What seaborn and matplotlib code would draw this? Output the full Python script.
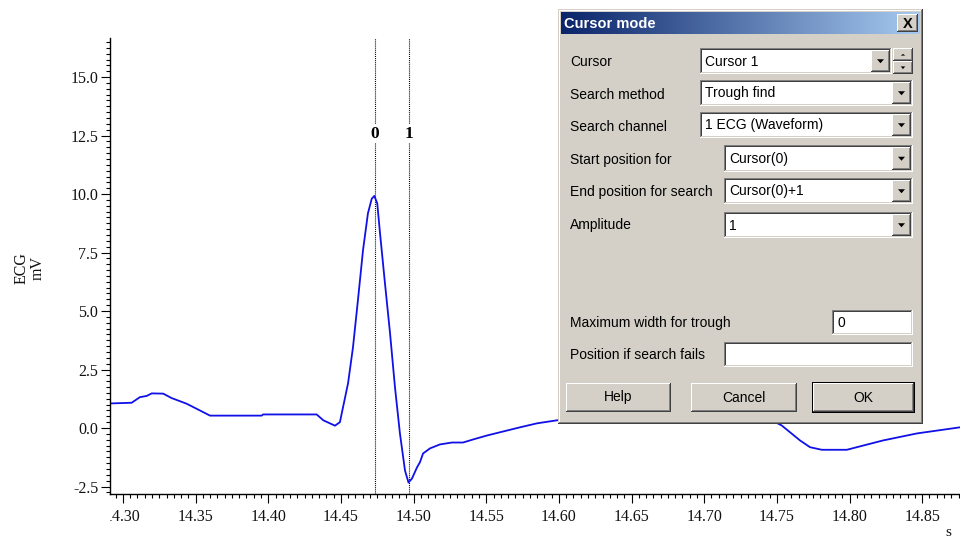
import numpy as np
import seaborn as sns
import matplotlib
matplotlib.use("Agg")
import matplotlib.pyplot as plt
from matplotlib.patches import Rectangle, Polygon
from matplotlib.colors import LinearSegmentedColormap
from matplotlib.ticker import FixedLocator, MultipleLocator, FormatStrFormatter
from matplotlib.transforms import Bbox, TransformedBbox, blended_transform_factory

# ECG waveform samples (time in s, amplitude in mV)
time_s = [14.2911, 14.3060, 14.3117, 14.3163, 14.3198, 14.3277, 14.3335, 14.3438,
          14.3530, 14.3599, 14.3955, 14.3964, 14.4333, 14.4379, 14.4459, 14.4493,
          14.4549, 14.4583, 14.4617, 14.4652, 14.4686, 14.4712, 14.4730, 14.4750,
          14.4769, 14.4803, 14.4838, 14.4872, 14.4906, 14.4941, 14.4965, 14.4989,
          14.5023, 14.5044, 14.5065, 14.5113, 14.5182, 14.5264, 14.5340, 14.5409,
          14.5505, 14.5615, 14.5732, 14.5849, 14.5987, 14.6200, 14.6500, 14.6800,
          14.7100, 14.7300, 14.7533, 14.7659, 14.7728, 14.7809, 14.7981, 14.8231,
          14.8465, 14.8760]
ecg_mv = [1.05, 1.08, 1.32, 1.37, 1.48, 1.47, 1.28, 1.04,
          0.75, 0.53, 0.53, 0.58, 0.58, 0.33, 0.10, 0.25,
          1.91, 3.45, 5.46, 7.60, 9.18, 9.80, 9.92, 9.60,
          8.33, 6.19, 4.05, 1.74, -0.23, -1.82, -2.33, -2.16,
          -1.69, -1.46, -1.09, -0.87, -0.70, -0.62, -0.62, -0.49,
          -0.32, -0.15, 0.03, 0.20, 0.33, 0.55, 0.95, 1.30,
          1.25, 0.85, 0.11, -0.53, -0.82, -0.93, -0.93, -0.53,
          -0.23, 0.03]

cursor_times = [14.4732, 14.4966]
cursor_labels = ["0", "1"]
x_ticks = [14.30, 14.35, 14.40, 14.45, 14.50, 14.55, 14.60, 14.65, 14.70, 14.75, 14.80, 14.85]
y_ticks = [-2.5, 0.0, 2.5, 5.0, 7.5, 10.0, 12.5, 15.0]
channel_label = "ECG\nmV"
time_label = "s"

sns.set_theme(style="ticks")
plt.rcParams['font.family'] = ['Liberation Serif', 'DejaVu Serif']
plt.rcParams['axes.unicode_minus'] = False
plt.rcParams['lines.scale_dashes'] = False

W, H = 960, 540
fig = plt.figure(figsize=(W / 100, H / 100), dpi=100)
fig.patch.set_facecolor("white")

ax = fig.add_axes([110 / W, 1 - 494 / H, (960 - 110) / W, (494 - 38) / H])
ax.set_facecolor("white")
sns.lineplot(x=time_s, y=ecg_mv, ax=ax, color="#1010e8", lw=1.3,
             sort=False, estimator=None)

ax.set_xlim(14.2911, 14.876)
ax.set_ylim(-2.82, 16.67)
ax.xaxis.set_major_locator(FixedLocator(x_ticks))
ax.xaxis.set_minor_locator(MultipleLocator(0.005))
ax.yaxis.set_major_locator(FixedLocator(y_ticks))
ax.yaxis.set_minor_locator(MultipleLocator(0.25))
ax.xaxis.set_major_formatter(FormatStrFormatter("%.2f"))
ax.yaxis.set_major_formatter(FormatStrFormatter("%.1f"))
ax.set_xlabel("")
ax.set_ylabel("")

for side in ("top", "right"):
    ax.spines[side].set_visible(False)
for side in ("left", "bottom"):
    ax.spines[side].set_color("black")
    ax.spines[side].set_linewidth(1.0)

ax.tick_params(which="major", length=6.5, width=0.8, color="black",
               labelsize=11.5, labelcolor="#111111")
ax.tick_params(which="minor", length=3, width=0.8, color="black")
ax.tick_params(axis="x", which="major", pad=4.5)
ax.tick_params(axis="y", which="major", pad=2)

# first time label is cut by the plot's left edge
clip = TransformedBbox(Bbox([[110 / W, 0], [1, 1]]), fig.transFigure)
first = ax.xaxis.get_major_ticks()[0]
first.label1.set_clip_on(True)
first.label1.set_clip_box(clip)

# cursors
trans = blended_transform_factory(ax.transData, ax.transAxes)
for t, lab in zip(cursor_times, cursor_labels):
    ax.axvline(t, color="black", lw=0.8, linestyle=(0, (0.75, 0.75)), zorder=1)
    ax.text(t, 0.79, lab, transform=trans, ha="center", va="center",
            fontsize=12.5, fontweight="bold", color="black",
            bbox=dict(fc="white", ec="none", pad=1.2), zorder=3)

fig.text(30 / W, 1 - 268 / H, channel_label, rotation=90, ha="center", va="center",
         fontsize=11.5, linespacing=1.0, color="#111111")
fig.text(948 / W, 1 - 539 / H, time_label, ha="center", va="bottom",
         fontsize=11, color="#111111")

# ---- "Cursor mode" dialog panel, drawn in pixel coordinates ----
ov = fig.add_axes([0, 0, 1, 1], zorder=10)
ov.set_xlim(0, W)
ov.set_ylim(H, 0)
ov.axis("off")
ov.patch.set_visible(False)

FACE = "#D4D0C8"
SHADOW = "#808080"
DARK = "#404040"
UI_FONT = ["Liberation Sans", "DejaVu Sans"]


def rect(x0, y0, x1, y1, fc, z=1):
    ov.add_patch(Rectangle((x0, y0), x1 - x0, y1 - y0, facecolor=fc,
                           edgecolor="none", lw=0, zorder=z, antialiased=False))


def bevel(x0, y0, x1, y1, tl, br, z=2):
    rect(x0, y0, x1, y0 + 1, tl, z)
    rect(x0, y0, x0 + 1, y1, tl, z)
    rect(x0, y1 - 1, x1, y1, br, z)
    rect(x1 - 1, y0, x1, y1, br, z)


def raised(x0, y0, x1, y1, z=2):
    rect(x0, y0, x1, y1, FACE, z)
    bevel(x0, y0, x1, y1, "white", DARK, z + 0.1)
    bevel(x0 + 1, y0 + 1, x1 - 1, y1 - 1, FACE, SHADOW, z + 0.2)


def sunken(x0, y0, x1, y1, z=2):
    rect(x0, y0, x1, y1, "white", z)
    bevel(x0, y0, x1, y1, SHADOW, "white", z + 0.1)
    bevel(x0 + 1, y0 + 1, x1 - 1, y1 - 1, DARK, FACE, z + 0.2)


def arrow(cx, cy, size=3.5, up=False, z=4):
    s = -1 if up else 1
    ov.add_patch(Polygon([(cx - size, cy - s * size / 2), (cx + size, cy - s * size / 2),
                          (cx, cy + s * size / 2 + 0.5)], closed=True,
                         facecolor="black", edgecolor="none", zorder=z))


def label(x, y, s, **kw):
    ov.text(x, y, s, ha="left", va="center", fontsize=10, family=UI_FONT,
            color="black", zorder=5, **kw)


def combo(x0, y0, x1, y1, text):
    sunken(x0, y0, x1, y1)
    raised(x1 - 21, y0 + 2, x1 - 2, y1 - 2, z=3)
    arrow(x1 - 11.5, (y0 + y1) / 2)
    label(x0 + 5, (y0 + y1) / 2 + 0.5, text)


# window body
rect(558, 9, 923, 424, FACE, 1)
bevel(558, 9, 923, 424, FACE, DARK)
bevel(559, 10, 922, 423, "white", SHADOW)

# title bar with gradient
title_cmap = LinearSegmentedColormap.from_list("title", ["#0A246A", "#A6CAF0"])
ov.imshow(np.linspace(0, 1, 256).reshape(1, -1), cmap=title_cmap,
          extent=(561, 920, 34, 12), aspect="auto", zorder=2, interpolation="bilinear")
ov.set_xlim(0, W)
ov.set_ylim(H, 0)
ov.text(564, 23.5, "Cursor mode", ha="left", va="center", fontsize=10.5,
        fontweight="bold", family=UI_FONT, color="white", zorder=5)
raised(897, 14, 918, 32, z=3)
ov.text(907.5, 23.5, "X", ha="center", va="center", fontsize=10.5, fontweight="bold",
        family=UI_FONT, color="black", zorder=5)

# field labels
label(570, 62, "Cursor")
label(570, 95, "Search method")
label(570, 127, "Search channel")
label(570, 160, "Start position for")
label(570, 192, "End position for search")
label(570, 225, "Amplitude")
label(570, 323, "Maximum width for trough")
label(570, 355, "Position if search fails")

# drop-down fields
combo(700, 48, 892, 74, "Cursor 1")
raised(893, 48, 913, 61, z=3)
raised(893, 61, 913, 74, z=3)
arrow(903, 54.5, size=2.2, up=True)
arrow(903, 67.5, size=2.2)
combo(700, 80, 913, 106, "Trough find")
combo(700, 112, 913, 138, "1 ECG (Waveform)")
combo(724, 145, 913, 172, "Cursor(0)")
combo(724, 178, 913, 204, "Cursor(0)+1")
combo(724, 212, 913, 238, "1")

# edit boxes
sunken(832, 310, 913, 335)
label(837, 323, "0")
sunken(724, 342, 913, 367)

# buttons
for bx0, bx1, txt in [(566, 671, "Help"), (691, 797, "Cancel"), (813, 914, "OK")]:
    raised(bx0, 383, bx1, 412)
    ov.text((bx0 + bx1) / 2, 397.5, txt, ha="center", va="center", fontsize=10,
            family=UI_FONT, color="black", zorder=5)
# default button frame
bevel(812, 382, 915, 413, "black", "black", z=3)

fig.savefig("out.png", dpi=100, facecolor="white")
